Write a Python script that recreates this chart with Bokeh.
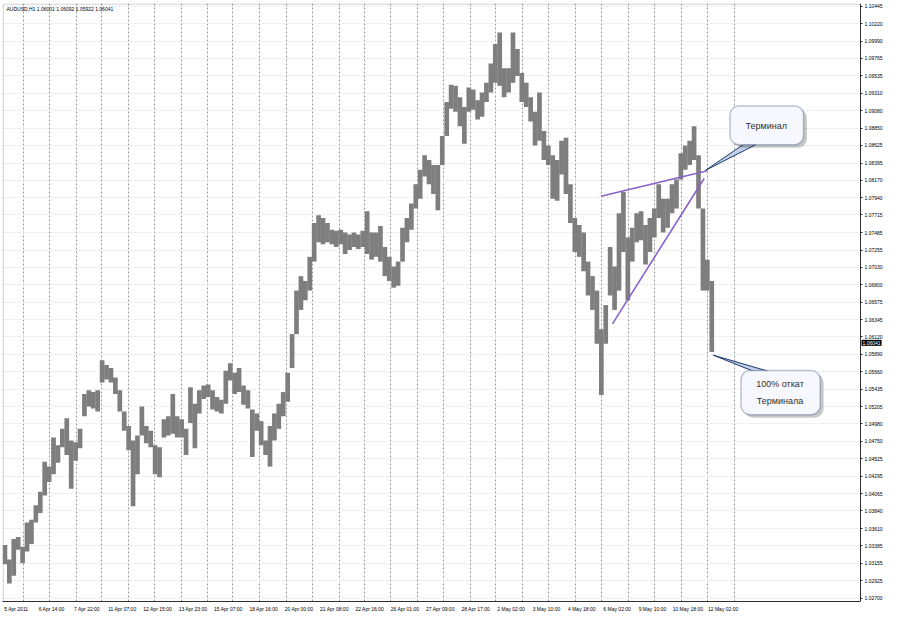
from bokeh.plotting import figure
from bokeh.models import (Range1d, FixedTicker, NumeralTickFormatter, Label, LinearAxis,
                          ColumnDataSource, BoxAnnotation)
from bokeh.embed import file_html
from bokeh.resources import INLINE

# ---------------- data ----------------
symbol_title = "AUDUSD,H1  1.06001 1.06092 1.05922 1.06041"
last_price = 1.06041

# high / low of consecutive 4-hour blocks of H1 bars
bar_high = [
    1.03396, 1.03206, 1.03472, 1.03498, 1.03371, 1.03688, 1.03725, 1.03915, 1.04092, 1.04485,
    1.04421, 1.04801, 1.04700, 1.04915, 1.05054, 1.04763, 1.04738, 1.04915, 1.05370, 1.05421,
    1.05396, 1.05421, 1.05813, 1.05750, 1.05712, 1.05586, 1.05421, 1.05143, 1.04953, 1.04763,
    1.04827, 1.05206, 1.04953, 1.04890, 1.04700, 1.04674, 1.05041, 1.05080, 1.05370, 1.05080,
    1.05041, 1.04915, 1.05459, 1.05244, 1.05421, 1.05484, 1.05497, 1.05421, 1.05333, 1.05295,
    1.05674, 1.05775, 1.05649, 1.05712, 1.05484, 1.05421, 1.05168, 1.05117, 1.05016, 1.04763,
    1.04953, 1.05117, 1.05244, 1.05396, 1.05649, 1.06155, 1.06725, 1.06914, 1.06851, 1.07167,
    1.07611, 1.07712, 1.07674, 1.07611, 1.07522, 1.07509, 1.07522, 1.07484, 1.07458, 1.07484,
    1.07458, 1.07509, 1.07762, 1.07484, 1.07484, 1.07572, 1.07294, 1.07167, 1.07041, 1.07104,
    1.07547, 1.07674, 1.07864, 1.08117, 1.08306, 1.08496, 1.08433, 1.08370, 1.08370, 1.08749,
    1.09192, 1.09420, 1.09407, 1.09256, 1.09129, 1.09382, 1.09357, 1.09218, 1.09319, 1.09445,
    1.09698, 1.09952, 1.10103, 1.09635, 1.09635, 1.10103, 1.09888, 1.09572, 1.09445, 1.09256,
    1.09066, 1.09319, 1.08813, 1.08623, 1.08496, 1.08433, 1.08686, 1.08724, 1.08117, 1.07674,
    1.07585, 1.07484, 1.07104, 1.06914, 1.06725, 1.06219, 1.06535, 1.07294, 1.07041, 1.07737,
    1.08015, 1.07421, 1.07547, 1.07737, 1.07762, 1.07585, 1.07674, 1.07800, 1.08117, 1.07927,
    1.07927, 1.08117, 1.08180, 1.08522, 1.08623, 1.08686, 1.08876, 1.08496, 1.07800, 1.07130,
    1.06851,
]
bar_low = [
    1.03143, 1.02890, 1.02991, 1.03333, 1.03156, 1.03308, 1.03409, 1.03688, 1.03814, 1.04042,
    1.04219, 1.04320, 1.04472, 1.04674, 1.04573, 1.04130, 1.04497, 1.04662, 1.05080, 1.05206,
    1.05181, 1.05143, 1.05522, 1.05560, 1.05522, 1.05370, 1.05143, 1.04890, 1.04636, 1.03902,
    1.04320, 1.04827, 1.04725, 1.04674, 1.04320, 1.04282, 1.04801, 1.04827, 1.04852, 1.04801,
    1.04801, 1.04573, 1.04991, 1.04662, 1.05117, 1.05307, 1.05333, 1.05168, 1.05143, 1.05117,
    1.05244, 1.05548, 1.05370, 1.05396, 1.05231, 1.05181, 1.04548, 1.04890, 1.04700, 1.04573,
    1.04421, 1.04763, 1.04915, 1.05080, 1.05269, 1.05712, 1.06155, 1.06472, 1.06598, 1.06725,
    1.07104, 1.07358, 1.07332, 1.07358, 1.07332, 1.07294, 1.07332, 1.07205, 1.07256, 1.07294,
    1.07269, 1.07294, 1.07205, 1.07130, 1.07167, 1.07104, 1.06914, 1.06851, 1.06763, 1.06788,
    1.07104, 1.07358, 1.07522, 1.07800, 1.07927, 1.08218, 1.08117, 1.07990, 1.07775, 1.08370,
    1.08749, 1.09104, 1.09066, 1.08876, 1.08648, 1.09066, 1.09091, 1.08964, 1.09002, 1.09192,
    1.09319, 1.09445, 1.09407, 1.09256, 1.09319, 1.09445, 1.09534, 1.09192, 1.09129, 1.08939,
    1.08623, 1.08686, 1.08433, 1.08370, 1.07927, 1.07901, 1.08243, 1.07990, 1.07611, 1.07231,
    1.07167, 1.06978, 1.06661, 1.06472, 1.06029, 1.05358, 1.06029, 1.06661, 1.06472, 1.06725,
    1.07231, 1.06598, 1.07104, 1.07358, 1.07383, 1.07066, 1.07231, 1.07421, 1.07674, 1.07484,
    1.07547, 1.07737, 1.07800, 1.08180, 1.08306, 1.08370, 1.08433, 1.07800, 1.06725, 1.06725,
    1.05922,
]
bars_per_block = 4

price_ticks = [1.10445, 1.10220, 1.09990, 1.09765, 1.09535, 1.09310, 1.09080, 1.08850,
               1.08625, 1.08395, 1.08170, 1.07940, 1.07715, 1.07485, 1.07255, 1.07030,
               1.06800, 1.06575, 1.06345, 1.06120, 1.05890, 1.05660, 1.05435, 1.05205,
               1.04980, 1.04750, 1.04525, 1.04295, 1.04065, 1.03840, 1.03610, 1.03385,
               1.03155, 1.02925, 1.02700]

time_labels = ["5 Apr 2011", "6 Apr 14:00", "7 Apr 22:00", "11 Apr 07:00", "12 Apr 15:00",
               "13 Apr 23:00", "15 Apr 07:00", "18 Apr 16:00", "20 Apr 00:00", "21 Apr 08:00",
               "22 Apr 16:00", "26 Apr 01:00", "27 Apr 09:00", "28 Apr 17:00", "2 May 02:00",
               "3 May 10:00", "4 May 18:00", "6 May 02:00", "9 May 10:00", "10 May 18:00",
               "12 May 02:00"]
time_label_bars = [0, 32, 64, 96, 128, 160, 192, 224, 256, 288, 320, 352, 384, 416, 448,
                   480, 512, 544, 576, 608, 640]

# bar index at which each trading day starts (period separators)
day_start_bars = [18, 42, 66, 89, 113, 137, 161, 185, 208, 232, 256, 280, 304, 327, 351,
                  375, 399, 423, 446, 470, 494, 518, 542, 566, 590, 614, 638, 662]

# hand drawn trend lines (bar index, price)
upper_line_x = [541.2, 637.5]
upper_line_y = [1.07961, 1.08294]
lower_line_x = [551.6, 634.6]
lower_line_y = [1.06290, 1.08192]

callout1_text = "Терминал"
callout2_lines = ["100% откат", "Терминала"]

# ---------------- figure ----------------
x_start = -0.7          # left edge of the chart (bars)
axis_x = 776.2          # price scale line (bars)
x_end = 797.9           # right edge of the canvas incl. price scale area (bars)
y_start, y_end = 1.02655, 1.10483
label_shift = 11.8      # MT4 puts the time text to the right of its bar

p = figure(width=884, height=614, output_backend="svg", toolbar_location=None,
           x_range=Range1d(x_start, x_end), y_range=Range1d(y_start, y_end),
           y_axis_location="right", x_axis_location=None, tools="")
p.min_border_left = 2
p.min_border_top = 3
p.min_border_right = 0
p.min_border_bottom = 0
p.background_fill_color = "white"
p.border_fill_color = "white"
p.outline_line_color = None

FONT = "Liberation Sans"

# price scale, drawn at the chart's right edge
p.yaxis.fixed_location = axis_x
p.yaxis.ticker = FixedTicker(ticks=price_ticks)
p.yaxis.formatter = NumeralTickFormatter(format="0.00000")
p.yaxis.major_label_text_font = FONT
p.yaxis.major_label_text_font_size = "5px"
p.yaxis.major_label_text_color = "black"
p.yaxis.major_label_standoff = 2
p.yaxis.major_tick_in = 0
p.yaxis.major_tick_out = 2
p.yaxis.minor_tick_in = 0
p.yaxis.minor_tick_out = 0
p.yaxis.minor_tick_line_color = None
p.yaxis.axis_line_color = "#303030"
p.yaxis.major_tick_line_color = "#303030"

# time scale: labels start at their bar
p.extra_x_ranges = {"labels": Range1d(x_start - label_shift, x_end - label_shift)}
xaxis = LinearAxis(x_range_name="labels", ticker=FixedTicker(ticks=time_label_bars),
                   major_label_overrides={float(b): t for b, t in zip(time_label_bars, time_labels)},
                   bounds=(x_start - label_shift, axis_x - label_shift),
                   axis_label=None, axis_label_standoff=0)
xaxis.major_label_text_font = FONT
xaxis.major_label_text_font_size = "5px"
xaxis.major_label_text_color = "black"
xaxis.major_label_standoff = 4
xaxis.major_tick_in = 0
xaxis.major_tick_out = 0
xaxis.minor_tick_in = 0
xaxis.minor_tick_out = 0
xaxis.major_tick_line_color = None
xaxis.minor_tick_line_color = None
xaxis.axis_line_color = "#303030"
p.add_layout(xaxis, "below")

# grids
p.xgrid.ticker = FixedTicker(ticks=day_start_bars)
p.xgrid.grid_line_color = "#979797"
p.xgrid.grid_line_dash = "2 2"
p.xgrid.grid_line_width = 1
p.ygrid.grid_line_color = "#e2e2e2"
p.ygrid.grid_line_dash = "2 2"
p.ygrid.grid_line_width = 1

# blank price-scale area and chart border
p.add_layout(BoxAnnotation(left=axis_x, fill_color="white", fill_alpha=1.0, line_color=None,
                           level="underlay"))
p.add_layout(BoxAnnotation(left=x_start + 0.6, right=axis_x, bottom=y_start, top=y_end - 0.00008,
                           fill_alpha=0.0, line_color="#505050", line_width=1,
                           level="underlay"))

# price bars
centers = [bars_per_block * i + (bars_per_block - 1) / 2 for i in range(len(bar_high))]
src = ColumnDataSource(dict(x=centers, top=bar_high, bottom=bar_low))
p.vbar(x="x", width=bars_per_block + 0.25, top="top", bottom="bottom", source=src,
       fill_color="#7e7e7e", line_color=None)

# trend lines
p.line(upper_line_x, upper_line_y, line_color="#8862c8", line_width=1.6)
p.line(lower_line_x, lower_line_y, line_color="#8862c8", line_width=1.6)

# callout pointers
p.patch([670.4, 682.0, 636.0], [1.08640, 1.08640, 1.08300],
        fill_color="#c3d0e8", line_color="#1c3a70", line_width=1)
p.patch([679.0, 692.4, 642.8], [1.05670, 1.05670, 1.05880],
        fill_color="#c3d0e8", line_color="#1c3a70", line_width=1)

# callout boxes with shadow
for (l, r, b, t) in [(658.0, 724.6, 1.08635, 1.09142), (668.0, 739.7, 1.05101, 1.05678)]:
    p.add_layout(BoxAnnotation(left=l + 3.0, right=r + 3.0, bottom=b - 0.00040, top=t - 0.00040,
                               fill_color="#000000", fill_alpha=0.22, line_color=None,
                               border_radius=9))
    p.add_layout(BoxAnnotation(left=l, right=r, bottom=b, top=t,
                               fill_color="#f6f8fd", fill_alpha=1.0, line_color="#1f3d73",
                               line_width=1.5, border_radius=9))

p.add_layout(Label(x=690.8, y=1.08876, text=callout1_text, text_align="center",
                   text_baseline="middle", text_font=FONT, text_font_size="9px",
                   text_color="#303030"))
p.add_layout(Label(x=703.3, y=1.05497, text=callout2_lines[0], text_align="center",
                   text_baseline="middle", text_font=FONT, text_font_size="9px",
                   text_color="#303030"))
p.add_layout(Label(x=703.3, y=1.05282, text=callout2_lines[1], text_align="center",
                   text_baseline="middle", text_font=FONT, text_font_size="9px",
                   text_color="#303030"))

# symbol caption
p.add_layout(Label(x=x_start, y=y_end, x_offset=4, y_offset=-2, text=symbol_title,
                   text_align="left", text_baseline="top", text_font=FONT,
                   text_font_size="5px", text_color="black"))

# current price marker on the price scale
p.add_layout(Label(x=axis_x, y=last_price, x_offset=1, text=f"{last_price:.5f}",
                   text_align="left", text_baseline="middle", text_font=FONT,
                   text_font_size="5px", text_color="white",
                   background_fill_color="black", padding=1))

open("out.html", "w").write(file_html(p, INLINE))
